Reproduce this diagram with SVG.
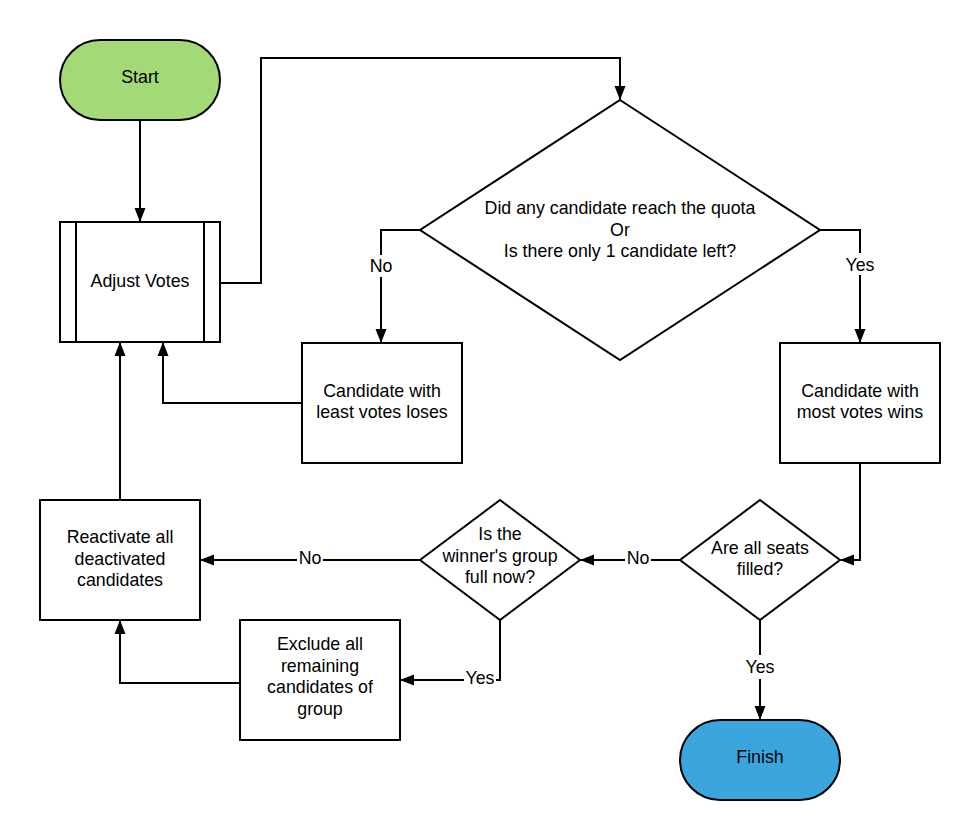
<svg xmlns="http://www.w3.org/2000/svg" width="980" height="840" viewBox="0 0 980 840">
<defs>
<marker id="arr" markerWidth="14" markerHeight="12" refX="13" refY="6" orient="auto" markerUnits="userSpaceOnUse">
<path d="M0,0.5 L14,6 L0,11.5 Z" fill="#000"/>
</marker>
<style>
.shape{stroke:#000;stroke-width:2;fill:#fff}
.line{stroke:#000;stroke-width:2;fill:none;marker-end:url(#arr)}
text{font-family:"Liberation Sans",Arial,sans-serif;font-size:17.8px;fill:#000;text-anchor:middle}
.lbl{fill:#fff;stroke:none}
</style>
</defs>
<rect width="980" height="840" fill="#fff"/>
<g id="connectors">
<path class="line" d="M140,120 L140,221"/>
<path class="line" d="M220,283 L261,283 L261,58 L620,58 L620,99"/>
<path class="line" d="M420,230 L381,230 L381,342"/>
<path class="line" d="M820,230 L860,230 L860,342"/>
<path class="line" d="M302,403 L163,403 L163,343"/>
<path class="line" d="M860,463 L860,560 L841,560"/>
<path class="line" d="M680,560 L581,560"/>
<path class="line" d="M760,620 L760,719"/>
<path class="line" d="M420,560 L201,560"/>
<path class="line" d="M500,620 L500,680 L401,680"/>
<path class="line" d="M240,683 L120,683 L120,621"/>
<path class="line" d="M120,500 L120,343"/>
<rect class="lbl" x="368" y="255" width="26" height="22"/>
<text x="381" y="272">No</text>
<rect class="lbl" x="843" y="253" width="34" height="22"/>
<text x="860" y="271">Yes</text>
<rect class="lbl" x="625" y="548" width="26" height="20"/>
<text x="638" y="564">No</text>
<rect class="lbl" x="743" y="655" width="34" height="24"/>
<text x="760" y="673">Yes</text>
<rect class="lbl" x="297" y="548" width="26" height="20"/>
<text x="310" y="564">No</text>
<rect class="lbl" x="464" y="668" width="32" height="20"/>
<text x="480" y="684">Yes</text>
</g>
<g id="start">
<rect x="60" y="40" width="160" height="80" rx="40" ry="40" class="shape" style="fill:#a3d977"/>
<text x="140" y="83">Start</text>
</g>
<g id="adjust">
<rect x="60" y="222" width="160" height="120" class="shape"/>
<line x1="76" y1="222" x2="76" y2="342" stroke="#000" stroke-width="2"/>
<line x1="204" y1="222" x2="204" y2="342" stroke="#000" stroke-width="2"/>
<text x="140" y="287">Adjust Votes</text>
</g>
<g id="quota">
<polygon points="620,100 820,230 620,360 420,230" class="shape"/>
<text x="620" y="214">Did any candidate reach the quota</text>
<text x="620" y="236">Or</text>
<text x="620" y="257">Is there only 1 candidate left?</text>
</g>
<g id="least">
<rect x="302" y="343" width="160" height="120" class="shape"/>
<text x="382" y="397">Candidate with</text>
<text x="382" y="418">least votes loses</text>
</g>
<g id="most">
<rect x="780" y="343" width="160" height="120" class="shape"/>
<text x="860" y="397">Candidate with</text>
<text x="860" y="418">most votes wins</text>
</g>
<g id="seats">
<polygon points="760,500 840,560 760,620 680,560" class="shape"/>
<text x="760" y="554">Are all seats</text>
<text x="760" y="575">filled?</text>
</g>
<g id="group">
<polygon points="500,500 580,560 500,620 420,560" class="shape"/>
<text x="500" y="540">Is the</text>
<text x="500" y="562">winner's group</text>
<text x="500" y="583">full now?</text>
</g>
<g id="reactivate">
<rect x="40" y="500" width="160" height="120" class="shape"/>
<text x="120" y="543">Reactivate all</text>
<text x="120" y="565">deactivated</text>
<text x="120" y="586">candidates</text>
</g>
<g id="exclude">
<rect x="240" y="620" width="160" height="120" class="shape"/>
<text x="320" y="650">Exclude all</text>
<text x="320" y="672">remaining</text>
<text x="320" y="693">candidates of</text>
<text x="320" y="715">group</text>
</g>
<g id="finish">
<rect x="680" y="720" width="160" height="80" rx="40" ry="40" class="shape" style="fill:#3aa6dd"/>
<text x="760" y="763">Finish</text>
</g>
</svg>
